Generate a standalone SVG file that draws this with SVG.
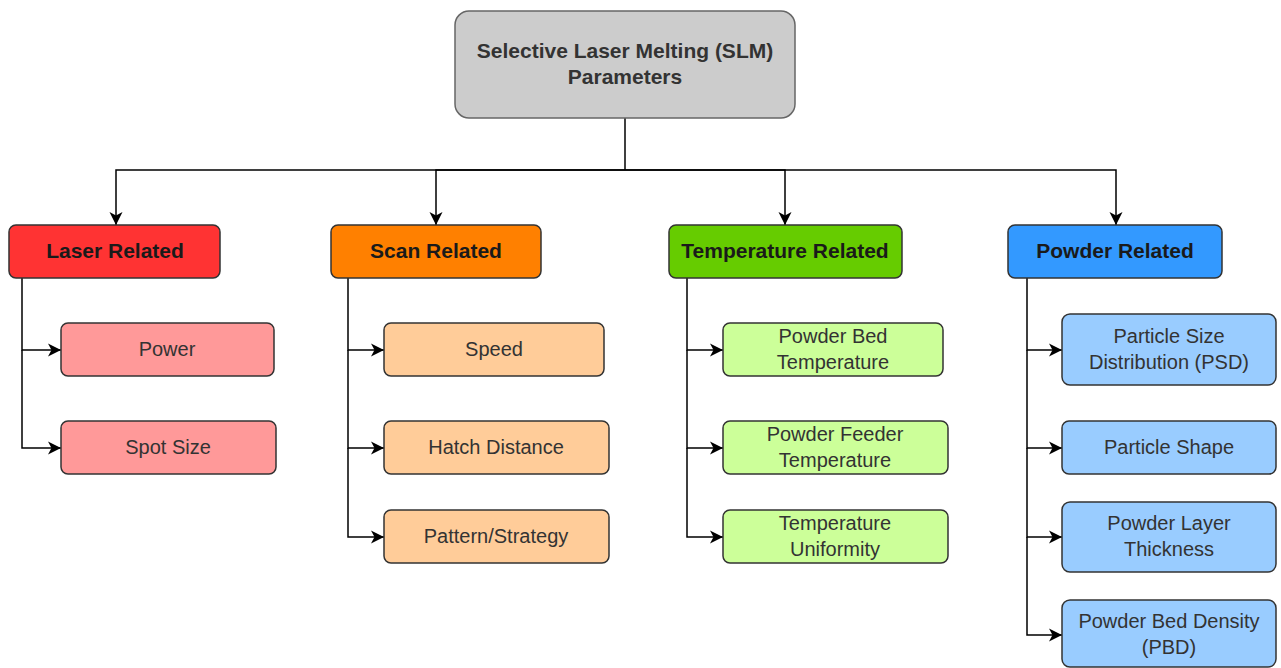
<svg xmlns="http://www.w3.org/2000/svg" width="1281" height="668" viewBox="0 0 1281 668">
<style>
  .box { stroke: #333333; stroke-width: 1.5; }
  .t { font-family: "Liberation Sans", Arial, Helvetica, sans-serif; font-size: 20px; fill: #333333; text-anchor: middle; }
  .h { font-family: "Liberation Sans", Arial, Helvetica, sans-serif; font-size: 21px; font-weight: bold; fill: #1a1a1a; text-anchor: middle; }
  .conn { fill: none; stroke: #000000; stroke-width: 1.5; }
  .arr { marker-end: url(#ah); }
</style>
<defs>
  <marker id="ah" markerUnits="userSpaceOnUse" markerWidth="16" markerHeight="16" refX="14" refY="8" orient="auto">
    <path d="M1,1.5 L14,8 L1,14.5 L4.5,8 Z" fill="#000000"/>
  </marker>
</defs>
<rect width="1281" height="668" fill="#ffffff"/>

<g id="connectors">
  <path class="conn" d="M625,118 V170"/>
  <path class="conn arr" d="M625,170 H116 V225"/>
  <path class="conn arr" d="M625,170 H436 V225"/>
  <path class="conn arr" d="M625,170 H785 V225"/>
  <path class="conn arr" d="M625,170 H1116 V225"/>

  <path class="conn arr" d="M22,278 V350 H61"/>
  <path class="conn arr" d="M22,350 V448 H61"/>

  <path class="conn arr" d="M348,278 V350 H384"/>
  <path class="conn arr" d="M348,350 V448 H384"/>
  <path class="conn arr" d="M348,448 V537 H384"/>

  <path class="conn arr" d="M687,278 V350 H723"/>
  <path class="conn arr" d="M687,350 V448 H723"/>
  <path class="conn arr" d="M687,448 V537 H723"/>

  <path class="conn arr" d="M1027,278 V350 H1062"/>
  <path class="conn arr" d="M1027,350 V448 H1062"/>
  <path class="conn arr" d="M1027,448 V537 H1062"/>
  <path class="conn arr" d="M1027,537 V635 H1062"/>
</g>

<g id="root">
  <rect x="455" y="11" width="340" height="107" rx="14" fill="#cccccc" stroke="#666666" stroke-width="1.5"/>
  <text class="h" x="625" y="58" style="fill:#333333">Selective Laser Melting (SLM)</text>
  <text class="h" x="625" y="84" style="fill:#333333">Parameters</text>
</g>

<g id="laser">
  <rect class="box" x="9" y="225" width="211" height="53" rx="7" fill="#ff3333"/>
  <text class="h" x="115" y="258">Laser Related</text>
</g>
<g id="power">
  <rect class="box" x="61" y="323" width="213" height="53" rx="7" fill="#ff9999"/>
  <text class="t" x="167" y="356">Power</text>
</g>
<g id="spotsize">
  <rect class="box" x="61" y="421" width="215" height="53" rx="7" fill="#ff9999"/>
  <text class="t" x="168" y="454">Spot Size</text>
</g>

<g id="scan">
  <rect class="box" x="331" y="225" width="210" height="53" rx="7" fill="#ff8000"/>
  <text class="h" x="436" y="258">Scan Related</text>
</g>
<g id="speed">
  <rect class="box" x="384" y="323" width="220" height="53" rx="7" fill="#ffcc99"/>
  <text class="t" x="494" y="356">Speed</text>
</g>
<g id="hatch">
  <rect class="box" x="384" y="421" width="225" height="53" rx="7" fill="#ffcc99"/>
  <text class="t" x="496" y="454">Hatch Distance</text>
</g>
<g id="pattern">
  <rect class="box" x="384" y="510" width="225" height="53" rx="7" fill="#ffcc99"/>
  <text class="t" x="496" y="543">Pattern/Strategy</text>
</g>

<g id="temperature">
  <rect class="box" x="669" y="225" width="233" height="53" rx="7" fill="#66cc00"/>
  <text class="h" x="785" y="258">Temperature Related</text>
</g>
<g id="bedtemp">
  <rect class="box" x="723" y="323" width="220" height="53" rx="7" fill="#ccff99"/>
  <text class="t" x="833" y="343">Powder Bed</text>
  <text class="t" x="833" y="369">Temperature</text>
</g>
<g id="feedertemp">
  <rect class="box" x="723" y="421" width="225" height="53" rx="7" fill="#ccff99"/>
  <text class="t" x="835" y="441">Powder Feeder</text>
  <text class="t" x="835" y="467">Temperature</text>
</g>
<g id="uniformity">
  <rect class="box" x="723" y="510" width="225" height="53" rx="7" fill="#ccff99"/>
  <text class="t" x="835" y="530">Temperature</text>
  <text class="t" x="835" y="556">Uniformity</text>
</g>

<g id="powder">
  <rect class="box" x="1008" y="225" width="214" height="53" rx="7" fill="#3399ff"/>
  <text class="h" x="1115" y="258">Powder Related</text>
</g>
<g id="psd">
  <rect class="box" x="1062" y="314" width="214" height="71" rx="8" fill="#99ccff"/>
  <text class="t" x="1169" y="343">Particle Size</text>
  <text class="t" x="1169" y="369">Distribution (PSD)</text>
</g>
<g id="shape">
  <rect class="box" x="1062" y="421" width="214" height="53" rx="7" fill="#99ccff"/>
  <text class="t" x="1169" y="454">Particle Shape</text>
</g>
<g id="layer">
  <rect class="box" x="1062" y="502" width="214" height="70" rx="8" fill="#99ccff"/>
  <text class="t" x="1169" y="530">Powder Layer</text>
  <text class="t" x="1169" y="556">Thickness</text>
</g>
<g id="pbd">
  <rect class="box" x="1062" y="600" width="214" height="67" rx="8" fill="#99ccff"/>
  <text class="t" x="1169" y="628">Powder Bed Density</text>
  <text class="t" x="1169" y="654">(PBD)</text>
</g>
</svg>
